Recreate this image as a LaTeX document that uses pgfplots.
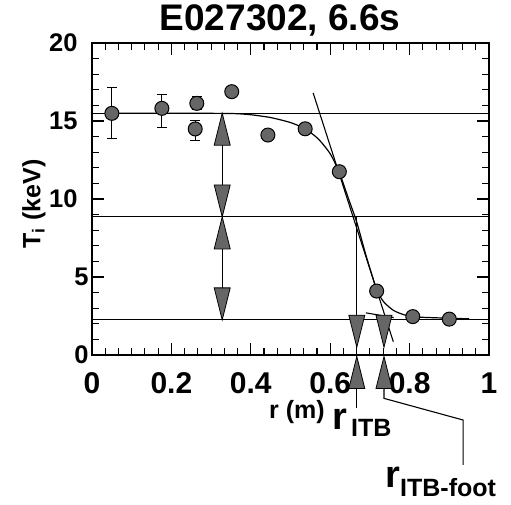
\documentclass[border=0pt]{standalone}
\usepackage{fontspec}
\setmainfont{Liberation Sans}
\usepackage{pgfplots}
\pgfplotsset{compat=1.18}

% tall triangles whose tip sits on the data point
\pgfdeclareplotmark{tup}{%
  \pgfpathmoveto{\pgfpoint{0pt}{0pt}}%
  \pgfpathlineto{\pgfpoint{-8pt}{-32pt}}%
  \pgfpathlineto{\pgfpoint{8pt}{-32pt}}%
  \pgfpathclose\pgfusepathqfillstroke}
\pgfdeclareplotmark{tdown}{%
  \pgfpathmoveto{\pgfpoint{0pt}{0pt}}%
  \pgfpathlineto{\pgfpoint{-8pt}{32pt}}%
  \pgfpathlineto{\pgfpoint{8pt}{32pt}}%
  \pgfpathclose\pgfusepathqfillstroke}

\newcommand\lbl{\fontsize{25}{30}\selectfont\bfseries}
\newcommand\tlbl{\fontsize{30}{34}\selectfont\bfseries}
\newcommand\ylbl{\fontsize{25.5}{30}\selectfont\bfseries}

\begin{document}
\begin{tikzpicture}
\begin{axis}[
  at={(0pt,0pt)}, anchor=south west,
  scale only axis, width=397pt, height=312pt,
  xmin=0, xmax=1, ymin=0, ymax=20,
  xtick={0,0.2,0.4,0.6,0.8,1}, xticklabels={0,0.2,0.4,0.6,0.8,1},
  ytick={0,5,10,15,20},
  yticklabels={0\kern-11pt,5\kern-11pt,10,15,20},
  minor x tick num=5, minor y tick num=4,
  tick align=inside, major tick length=12pt, minor tick length=7pt,
  every tick/.style={black, line width=1.1pt},
  axis line style={line width=1.6pt},
  xticklabel style={font=\tlbl, yshift=-14pt},
  yticklabel style={font=\ylbl, xshift=-11pt},
  clip=false,
]
% reference levels
\addplot[line width=1pt] coordinates {(0,15.5) (1,15.5)};
\addplot[line width=1pt] coordinates {(0,8.85) (1,8.85)};
\addplot[line width=1pt] coordinates {(0,2.25) (1,2.25)};

% fitted profile
\addplot[line width=1.2pt, smooth, tension=0.4] coordinates {
  (0.05,15.5) (0.20,15.5) (0.35,15.48) (0.40,15.4) (0.45,15.22)
  (0.50,14.9) (0.537,14.5) (0.57,13.85) (0.60,12.9) (0.623,11.7)
  (0.645,10.1) (0.667,8.5) (0.69,6.4) (0.717,4.2) (0.735,3.4)
  (0.76,2.85) (0.79,2.55) (0.83,2.42) (0.95,2.32)};

% gradient and foot tangents
\addplot[line width=1.1pt] coordinates {(0.557,16.8) (0.759,0.85)};
\addplot[line width=1.1pt] coordinates {(0.69,2.7) (0.76,2.4)};

% vertical guides
\addplot[line width=1.1pt] coordinates {(0.328,15.5) (0.328,2.25)};
\addplot[line width=1.1pt] coordinates {(0.667,8.85) (0.667,-3.4)};
\addplot[line width=1.1pt] coordinates {(0.7355,-2.0) (0.7355,-2.78) (0.935,-4.17) (0.935,-7.05)};

% measured ion temperature
\addplot[only marks, mark=*, mark size=7pt,
  mark options={fill=black!60, draw=black, line width=1pt},
  error bars/.cd, y dir=both, y explicit,
  error bar style={line width=1pt, black},
  error mark options={rotate=90, mark size=5pt, line width=1pt, black}]
  table[x=x, y=y, y error plus=ep, y error minus=em] {
  x      y      ep    em
  0.050  15.49  1.67  1.64
  0.176  15.81  0.92  1.21
  0.264  16.13  0.42  0.40
  0.260  14.49  0.51  0.71
  0.352  16.88  0     0
  0.443  14.10  0     0
  0.537  14.50  0     0
  0.623  11.75  0     0
  0.717  4.10   0     0
  0.808  2.46   0     0
  0.900  2.30   0     0
};

% level markers
\addplot[only marks, mark=tup, mark options={fill=black!60, draw=black, line width=0.8pt}]
  coordinates {(0.328,15.5) (0.328,8.85) (0.667,-0.1) (0.7355,-0.1)};
\addplot[only marks, mark=tdown, mark options={fill=black!60, draw=black, line width=0.8pt}]
  coordinates {(0.328,8.85) (0.328,2.25) (0.667,0.5) (0.7355,0.5)};
\end{axis}

\node[font=\fontsize{37}{42}\selectfont\bfseries] at (188pt,335pt) {E027302, 6.6s};
\node[font=\lbl, rotate=90] at (-58pt,151pt) {T\textsubscript{i} (keV)};
\node[font=\lbl] at (205pt,-57pt) {r (m)};
\node[anchor=base west, inner sep=0pt, font=\fontsize{38}{40}\selectfont\bfseries] at (240pt,-75pt) {r};
\node[anchor=base west, inner sep=0pt, font=\lbl] at (259pt,-82pt) {ITB};
\node[anchor=base west, inner sep=0pt, font=\fontsize{38}{40}\selectfont\bfseries] at (293pt,-132pt) {r};
\node[anchor=base west, inner sep=0pt, font=\lbl] at (308pt,-142pt) {ITB-foot};

\pgfresetboundingbox
\path (-92pt,-150pt) rectangle (419pt,355pt);
\end{tikzpicture}
\end{document}
